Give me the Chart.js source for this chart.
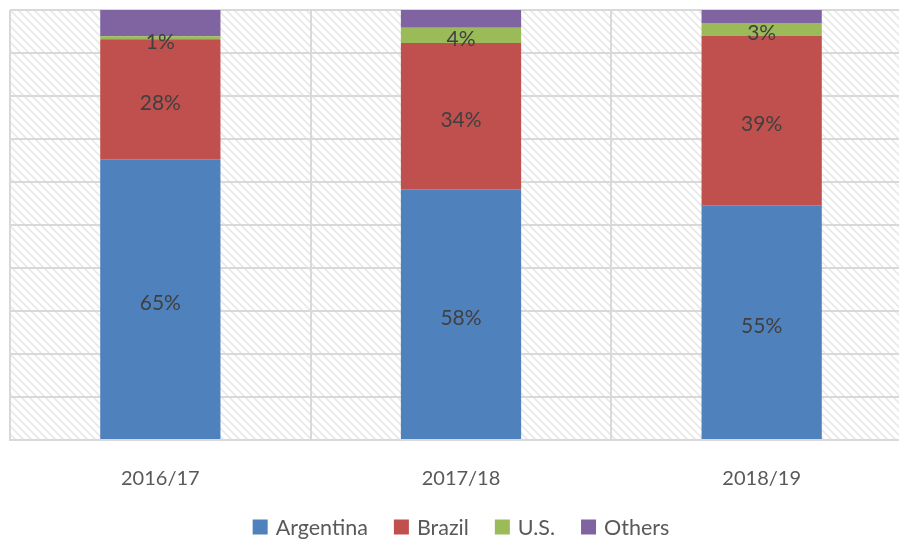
<!DOCTYPE html>
<html lang="en">
<head>
    <meta charset="UTF-8">
    <title>Market share by season</title>
    <script src="https://cdn.jsdelivr.net/npm/chart.js"></script>
    <style>
        html, body {
            margin: 0;
            padding: 0;
            background: #ffffff;
            overflow: hidden;
        }
        .chart-box {
            width: 915px;
            height: 540px;
        }
    </style>
</head>
<body>
    <div class="chart-box">
        <canvas id="shareChart"></canvas>
    </div>

    <script>
        // Data
        const seasons = ['2016/17', '2017/18', '2018/19'];
        const argentina = [65.3, 58.3, 54.6];
        const brazil = [27.9, 34.0, 39.4];
        const us = [0.7, 3.6, 3.0];
        const others = [6.1, 4.1, 3.0];
        const yTicks = [0, 10, 20, 30, 40, 50, 60, 70, 80, 90, 100];

        const font = 'Lato, "Open Sans", sans-serif';

        // Hatched plot background
        function makeHatch() {
            const c = document.createElement('canvas');
            c.width = 8;
            c.height = 8;
            const g = c.getContext('2d');
            g.fillStyle = '#ffffff';
            g.fillRect(0, 0, 8, 8);
            g.strokeStyle = '#e8e8e8';
            g.lineWidth = 1.6;
            g.beginPath();
            g.moveTo(-2, -2);
            g.lineTo(10, 10);
            g.moveTo(-2, 6);
            g.lineTo(2, 10);
            g.moveTo(6, -2);
            g.lineTo(10, 2);
            g.stroke();
            return c;
        }

        const hatchBackground = {
            id: 'hatchBackground',
            beforeDraw(chart) {
                const { ctx, chartArea: a } = chart;
                ctx.save();
                ctx.fillStyle = ctx.createPattern(makeHatch(), 'repeat');
                ctx.fillRect(a.left, a.top, a.right - a.left, a.bottom - a.top);
                ctx.restore();
            }
        };

        // Percent labels inside segments (not for Others)
        const segmentLabels = {
            id: 'segmentLabels',
            afterDatasetsDraw(chart) {
                const { ctx } = chart;
                ctx.save();
                ctx.font = '21px ' + font;
                ctx.fillStyle = '#404040';
                ctx.textAlign = 'center';
                ctx.textBaseline = 'middle';
                chart.data.datasets.forEach((ds, i) => {
                    if (ds.label === 'Others') return;
                    chart.getDatasetMeta(i).data.forEach((bar, j) => {
                        const y = (bar.y + bar.base) / 2 + 4;
                        ctx.fillText(Math.round(ds.data[j]) + '%', bar.x, y);
                    });
                });
                ctx.restore();
            }
        };

        // Legend drawn by hand so it sits where the original one does
        const bottomLegend = {
            id: 'bottomLegend',
            afterDraw(chart) {
                const { ctx, chartArea } = chart;
                const sets = chart.data.datasets;
                const box = 15, gapText = 8, gapItem = 26, cy = 527;
                ctx.save();
                ctx.font = '21.5px ' + font;
                const widths = sets.map(ds => box + gapText + ctx.measureText(ds.label).width);
                const total = widths.reduce((a, b) => a + b, 0) + gapItem * (sets.length - 1);
                let x = (chartArea.left + chartArea.right) / 2 - total / 2;
                ctx.textBaseline = 'middle';
                ctx.textAlign = 'left';
                sets.forEach((ds, i) => {
                    ctx.fillStyle = ds.backgroundColor;
                    ctx.fillRect(x, cy - box / 2, box, box);
                    ctx.fillStyle = '#595959';
                    ctx.fillText(ds.label, x + box + gapText, cy + 1);
                    x += widths[i] + gapItem;
                });
                ctx.restore();
            }
        };

        new Chart(document.getElementById('shareChart'), {
            type: 'bar',
            data: {
                labels: seasons,
                datasets: [
                    { label: 'Argentina', data: argentina, backgroundColor: '#4f81bd' },
                    { label: 'Brazil', data: brazil, backgroundColor: '#c0504d' },
                    { label: 'U.S.', data: us, backgroundColor: '#9bbb59' },
                    { label: 'Others', data: others, backgroundColor: '#8064a2' }
                ]
            },
            options: {
                responsive: true,
                maintainAspectRatio: false,
                animation: false,
                layout: {
                    padding: { left: 10, right: 3, top: 10, bottom: 22 }
                },
                datasets: {
                    bar: {
                        categoryPercentage: 0.4,
                        barPercentage: 1.0,
                        borderWidth: 0
                    }
                },
                scales: {
                    x: {
                        stacked: true,
                        grid: { color: '#d9d9d9', lineWidth: 2, drawTicks: false },
                        border: { color: '#d9d9d9', width: 2 },
                        ticks: {
                            color: '#595959',
                            font: { family: font, size: 20, lineHeight: 1 },
                            padding: 29
                        }
                    },
                    y: {
                        stacked: true,
                        min: 0,
                        max: 100,
                        afterBuildTicks(axis) {
                            axis.ticks = yTicks.map(v => ({ value: v }));
                        },
                        grid: { color: '#d9d9d9', lineWidth: 2, drawTicks: false },
                        border: { display: false },
                        ticks: { display: false }
                    }
                },
                plugins: {
                    legend: { display: false },
                    tooltip: { enabled: false }
                }
            },
            plugins: [hatchBackground, segmentLabels, bottomLegend]
        });
    </script>
</body>
</html>
